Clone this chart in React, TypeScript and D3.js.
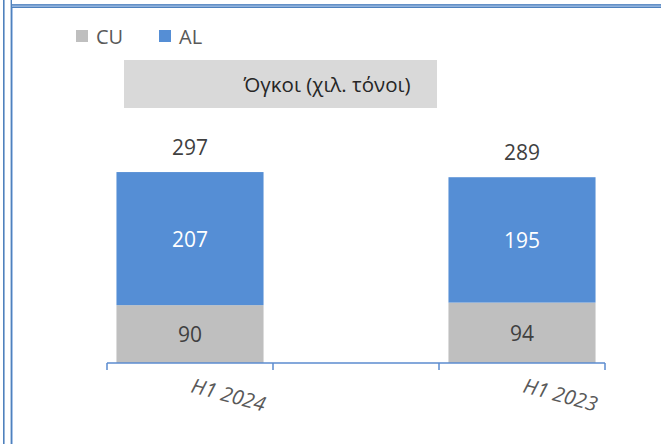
import * as d3 from 'd3';
import React from 'react';

const slots = ['H1 2024', '', 'H1 2023'];
const periods = ['H1 2024', 'H1 2023'];
const cuValues = [90, 94];
const alValues = [207, 195];
const totals = [297, 289];
const seriesNames = ['CU', 'AL'];
const seriesColors = ['#bfbfbf', '#558ed5'];
const title = 'Όγκοι (χιλ. τόνοι)';

const W = 661;
const H = 444;
const font = '"Open Sans", sans-serif';
const axisBlue = '#5b8bcf';

function App() {
    const x = d3.scaleBand().domain(slots).range([107, 605]).padding(0);
    const y = d3.scaleLinear().domain([0, 350]).range([363, 138]);
    const bw = x.bandwidth();
    const barW = bw * 0.886;

    const rows = periods.map((p, i) => ({ period: p, CU: cuValues[i], AL: alValues[i], total: totals[i] }));
    const stacked = d3.stack().keys(seriesNames)(rows);

    const ticks = [...slots.map(s => x(s)), 605];

    return (
        <svg width={W} height={H} style={{ position: 'absolute', left: 0, top: 0, background: '#fff' }}>
            {/* frame lines */}
            <rect x={12} y={4} width={W - 12} height={4} fill="#a9c4e8" />
            <line x1={12} x2={W} y1={4.8} y2={4.8} stroke="#4f81bd" strokeWidth={1.3} />
            <line x1={12} x2={W} y1={7.4} y2={7.4} stroke="#4f81bd" strokeWidth={1.3} />
            <line x1={3.8} x2={3.8} y1={0} y2={H} stroke="#4f81bd" strokeWidth={1.6} />
            <line x1={11.3} x2={11.3} y1={0} y2={H} stroke="#4f81bd" strokeWidth={1.4} />
            <line x1={12.5} x2={12.5} y1={8} y2={H} stroke="#a9c4e8" strokeWidth={1} />

            {/* legend */}
            {seriesNames.map((s, i) => (
                <g key={s} transform={`translate(${76 + i * 83},30)`}>
                    <rect width={12} height={12} fill={seriesColors[i]} />
                    <text x={20} y={13.5} fontFamily={font} fontSize={20} fill="#595959">{s}</text>
                </g>
            ))}

            {/* title box */}
            <rect x={124} y={60} width={313} height={48} fill="#d9d9d9" />
            <text x={327} y={92} textAnchor="middle" fontFamily={font} fontSize={20.5} fill="#262626">{title}</text>

            {/* bars */}
            {stacked.map((layer, li) => (
                <g key={layer.key}>
                    {layer.map((d, i) => (
                        <g key={i}>
                            <rect
                                x={x(d.data.period) + (bw - barW) / 2}
                                y={y(d[1])}
                                width={barW}
                                height={y(d[0]) - y(d[1])}
                                fill={seriesColors[li]}
                            />
                            <text
                                x={x(d.data.period) + bw / 2}
                                y={(y(d[0]) + y(d[1])) / 2 + 8}
                                textAnchor="middle"
                                fontFamily={font}
                                fontSize={21}
                                fill={li === 1 ? '#ffffff' : '#404040'}
                            >
                                {d[1] - d[0]}
                            </text>
                        </g>
                    ))}
                </g>
            ))}

            {/* totals */}
            {rows.map(r => (
                <text
                    key={r.period}
                    x={x(r.period) + bw / 2}
                    y={y(r.total) - 17}
                    textAnchor="middle"
                    fontFamily={font}
                    fontSize={21}
                    fill="#404040"
                >
                    {r.total}
                </text>
            ))}

            {/* x axis */}
            <line x1={107} x2={605} y1={363} y2={363} stroke={axisBlue} strokeWidth={1.5} />
            {ticks.map((t, i) => (
                <line key={i} x1={t} x2={t} y1={363} y2={370} stroke={axisBlue} strokeWidth={1.5} />
            ))}
            {periods.map(p => (
                <text
                    key={p}
                    transform={`translate(${x(p) + bw / 2},392) rotate(15)`}
                    fontFamily={font}
                    fontSize={20.5}
                    fontStyle="italic"
                    fill="#595959"
                >
                    {p}
                </text>
            ))}
        </svg>
    );
}

export default App;
